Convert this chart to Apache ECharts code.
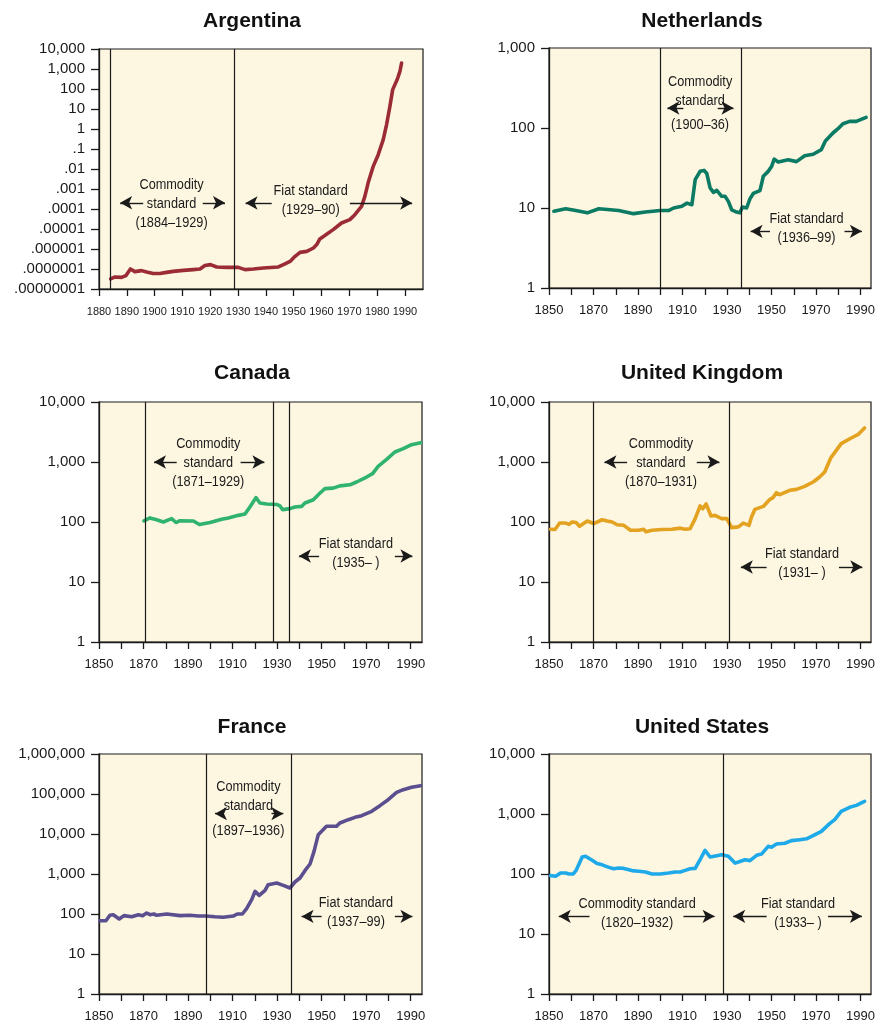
<!DOCTYPE html>
<html>
<head>
<meta charset="utf-8">
<script src="https://cdn.jsdelivr.net/npm/echarts@6/dist/echarts.min.js"></script>
<style>
html,body{margin:0;padding:0;background:#ffffff;}
#chart{width:878px;height:1023px;}
</style>
</head>
<body>
<div id="chart"></div>
<script>
// ---------------- DATA ----------------
const argYears = [1884.2, 1885.75, 1888.1, 1889.7, 1891.3, 1892.9, 1895.3, 1897.1, 1899.5, 1901.9, 1904.3, 1906.7, 1910.3, 1913.9, 1916.3, 1918.1, 1920.1, 1922.3, 1925.9, 1930.1, 1932.5, 1935.5, 1939.1, 1944.5, 1946.3, 1948.7, 1950.5, 1952.3, 1954.7, 1957.1, 1958.3, 1959.4, 1961.2, 1964.2, 1967.2, 1970.2, 1972.0, 1974.4, 1975.6, 1976.8, 1978.6, 1980.4, 1982.2, 1983.4, 1984.6, 1985.6, 1987.3, 1988.2, 1988.8];
const argValues = [3.2e-8, 4.0e-8, 3.8e-8, 4.7e-8, 1.0e-7, 7.4e-8, 8.3e-8, 7.1e-8, 6.0e-8, 6.0e-8, 6.8e-8, 7.6e-8, 8.5e-8, 9.3e-8, 1.0e-7, 1.5e-7, 1.66e-7, 1.26e-7, 1.2e-7, 1.2e-7, 9.3e-8, 1.0e-7, 1.12e-7, 1.26e-7, 1.66e-7, 2.4e-7, 4.3e-7, 6.8e-7, 7.6e-7, 1.12e-6, 1.66e-6, 3.2e-6, 4.7e-6, 9.3e-6, 2.0e-5, 2.95e-5, 5.2e-5, 1.35e-4, 4.3e-4, 2.1e-3, 0.0135, 0.052, 0.295, 1.66, 13.5, 93, 316, 760, 2000];

const netYears = [1852.2, 1857.5, 1862, 1867.2, 1872.4, 1881.3, 1888, 1893.3, 1900, 1903.7, 1906, 1909.7, 1912, 1914.2, 1915.7, 1917.9, 1919.7, 1920.9, 1922.4, 1923.9, 1925.4, 1927.6, 1929.1, 1930.6, 1932.1, 1934.3, 1935.8, 1936.9, 1938.8, 1940.3, 1941.8, 1944.8, 1946.3, 1948.5, 1950, 1951.2, 1953, 1957.5, 1961.2, 1964.9, 1968.7, 1972.4, 1974.2, 1977.6, 1979.9, 1982.1, 1985.1, 1988.1, 1992.5];
const netValues = [9.1, 9.8, 9.3, 8.7, 9.8, 9.3, 8.5, 8.9, 9.3, 9.3, 10, 10.5, 11.5, 11, 22.6, 28.7, 29.5, 27, 17.8, 15.7, 16.6, 14, 14, 12.1, 9.5, 8.9, 8.7, 10.3, 10, 13, 15.2, 16.5, 24.9, 28.7, 33, 40.8, 37.5, 40, 38, 45, 47, 53.7, 69, 86.6, 98, 113, 121, 121, 136];

const canYears = [1870.2, 1872.9, 1875.9, 1878.9, 1882.6, 1884.6, 1886.4, 1892.4, 1895.1, 1899.9, 1905.1, 1908.1, 1912.6, 1915.6, 1917.8, 1920.5, 1922.3, 1925.3, 1929.8, 1931.3, 1932.5, 1935.8, 1938, 1941, 1942.5, 1946.3, 1949.3, 1951.5, 1955.2, 1958.2, 1962.7, 1965.7, 1970.2, 1972.9, 1975.4, 1979.2, 1982.9, 1986.7, 1990.4, 1994.5];
const canValues = [104, 117, 109, 100, 114, 98, 105, 104, 91, 98, 111, 117, 129, 136, 178, 255, 207, 200, 196, 185, 161, 167, 178, 182, 207, 235, 304, 360, 367, 400, 417, 464, 562, 639, 847, 1108, 1468, 1668, 1944, 2100];

const ukYears = [1850.7, 1852.7, 1854.8, 1857.5, 1859, 1860.4, 1862.2, 1863.7, 1867.2, 1870.1, 1873.9, 1876.1, 1878.4, 1880.6, 1883.6, 1886.6, 1890.3, 1892.5, 1893.6, 1896.3, 1900.7, 1905.2, 1909, 1911.2, 1913.4, 1915.7, 1917.9, 1919.1, 1920.6, 1922.8, 1924.6, 1927.6, 1929.9, 1932.1, 1935.1, 1937.3, 1939.9, 1941, 1942.5, 1946.3, 1949.3, 1950.7, 1952.2, 1953.7, 1958.2, 1961.2, 1964.9, 1968.7, 1971.6, 1973.9, 1976.6, 1979.1, 1981.3, 1985.8, 1988.8, 1991.8];
const ukValues = [75.5, 75, 96, 96, 91, 100, 98, 85, 104, 94, 109, 104, 100, 90, 88, 73, 73, 75.5, 68.5, 73, 75, 75.5, 79, 75.5, 77, 114, 185, 167, 200, 126, 129, 114, 114, 80.5, 83, 96, 88, 121, 162, 182, 239, 255, 308, 285, 337, 350, 393, 464, 562, 681, 1166, 1565, 2021, 2512, 2854, 3687];

const fraYears = [1850.4, 1853.1, 1854.9, 1856.4, 1859.1, 1861.2, 1864.7, 1867.7, 1869.6, 1871.4, 1872.9, 1874.7, 1875.9, 1880.4, 1886.4, 1890.9, 1894.6, 1898, 1902.1, 1905.8, 1910.3, 1912.1, 1914.4, 1916.3, 1918.6, 1920.1, 1922, 1924.6, 1926, 1929.8, 1932.8, 1935.8, 1938, 1940.3, 1942.5, 1944.8, 1946.6, 1948.5, 1950, 1952.2, 1956.7, 1958.2, 1962, 1965, 1968, 1972.5, 1976.2, 1979.9, 1983.7, 1986.7, 1990.4, 1994.5];
const fraValues = [68, 68, 93, 96, 75, 91, 85, 96, 91, 106, 96, 100, 93, 100, 91, 93, 89, 89, 85, 83, 89, 100, 100, 136, 228, 369, 293, 391, 541, 596, 521, 447, 631, 794, 1211, 1778, 3687, 9624, 11660, 15560, 15560, 18840, 22800, 26100, 28700, 36870, 51100, 72100, 110000, 128300, 146800, 161500];

const usYears = [1850.7, 1853, 1855.2, 1857.5, 1859, 1860.9, 1862.2, 1863.7, 1864.9, 1866.4, 1869.4, 1871.6, 1873.9, 1876.9, 1879.1, 1881.3, 1883.6, 1887.3, 1890.3, 1893.3, 1896.3, 1900, 1903.7, 1906.7, 1907.5, 1909, 1911.2, 1913.4, 1915.7, 1917.9, 1920.1, 1922.4, 1925.4, 1927.6, 1930.6, 1933.6, 1935.8, 1938.1, 1940.3, 1943.3, 1945.5, 1948.5, 1950, 1952.2, 1956, 1959, 1962.7, 1965.7, 1968.7, 1972.4, 1976.1, 1978.4, 1981.3, 1985.1, 1988.1, 1991.8];
const usValues = [94, 92, 104, 104, 100, 100, 115, 152, 192, 198, 169, 149, 142, 129, 122, 126, 124, 114, 111, 108, 100, 100, 104, 108, 114, 108, 115, 122, 124, 173, 248, 192, 202, 210, 198, 152, 162, 173, 167, 205, 215, 289, 280, 316, 325, 360, 373, 386, 436, 514, 690, 805, 1108, 1292, 1393, 1625];

// standard boundaries (years)
const argLines = [1884.2, 1928.6];
const netLines = [1900, 1936.4];
const canLines = [1870.7, 1928.1, 1935.3];
const ukLines = [1870, 1931.2];
const fraLines = [1898, 1936.5];
const usLines = [1928.1];

// tick values and labels
const argXTicks = [1880, 1890, 1900, 1910, 1920, 1930, 1940, 1950, 1960, 1970, 1980, 1990];
const stdXTicks = [1850, 1860, 1870, 1880, 1890, 1900, 1910, 1920, 1930, 1940, 1950, 1960, 1970, 1980, 1990];
const stdXLabels = [1850, 1870, 1890, 1910, 1930, 1950, 1970, 1990];

const argYTicks = [1e-8, 1e-7, 1e-6, 1e-5, 1e-4, 1e-3, 1e-2, 1e-1, 1, 10, 100, 1000, 10000];
const argYLabels = ['.00000001', '.0000001', '.000001', '.00001', '.0001', '.001', '.01', '.1', '1', '10', '100', '1,000', '10,000'];
const netYTicks = [1, 10, 100, 1000];
const netYLabels = ['1', '10', '100', '1,000'];
const fourYTicks = [1, 10, 100, 1000, 10000];
const fourYLabels = ['1', '10', '100', '1,000', '10,000'];
const fraYTicks = [1, 10, 100, 1000, 10000, 100000, 1000000];
const fraYLabels = ['1', '10', '100', '1,000', '10,000', '100,000', '1,000,000'];

// annotation texts
const argTexts = ['Commodity\nstandard\n(1884–1929)', 'Fiat standard\n(1929–90)'];
const netTexts = ['Commodity\nstandard', '(1900–36)', 'Fiat standard\n(1936–99)'];
const canTexts = ['Commodity\nstandard\n(1871–1929)', 'Fiat standard\n(1935– )'];
const ukTexts = ['Commodity\nstandard\n(1870–1931)', 'Fiat standard\n(1931– )'];
const fraTexts = ['Commodity\nstandard', '(1897–1936)', 'Fiat standard\n(1937–99)'];
const usTexts = ['Commodity standard\n(1820–1932)', 'Fiat standard\n(1933– )'];

// ---------------- LAYOUT / STYLE ----------------
const SANS = "'Liberation Sans', Arial, Helvetica, sans-serif";
const INK = '#1a1a1a';

const panels = [
  { title: 'Argentina', tx: 252, ty: 21, years: argYears, values: argValues, color: '#9b2c36',
    grid: {left: 99, top: 49, width: 324, height: 240},
    xMin: 1880, xMax: 1996.5, xTicks: argXTicks, xLabels: argXTicks, xFont: 11, xMargin: 17,
    yTicks: argYTicks, yLabels: argYLabels, lines: argLines,
    texts: [[argTexts[0], 1906.1, 1.85e-4], [argTexts[1], 1956.1, 2.9e-4]],
    arrows: [[1895.9, 1887.6, 2.05e-4], [1917.3, 1925.3, 2.05e-4], [1942.1, 1932.7, 2.0e-4], [1970.2, 1992.6, 2.0e-4]] },
  { title: 'Netherlands', tx: 702, ty: 21, years: netYears, values: netValues, color: '#0b7b64',
    grid: {left: 549, top: 48, width: 323, height: 240},
    xMin: 1850, xMax: 1994.7, xTicks: stdXTicks, xLabels: stdXLabels, xFont: 13, xMargin: 16,
    yTicks: netYTicks, yLabels: netYLabels, lines: netLines,
    texts: [[netTexts[0], 1917.9, 292], [netTexts[1], 1917.9, 109], [netTexts[2], 1965.7, 5.6]],
    arrows: [[1910.4, 1903.2, 177.8], [1925.8, 1932.9, 177.8], [1949.3, 1940.6, 5.11], [1982.8, 1990.6, 5.11]] },
  { title: 'Canada', tx: 252, ty: 373, years: canYears, values: canValues, color: '#2fb36e',
    grid: {left: 99, top: 402, width: 323, height: 240},
    xMin: 1850, xMax: 1995.1, xTicks: stdXTicks, xLabels: stdXLabels, xFont: 13, xMargin: 16,
    yTicks: fourYTicks, yLabels: fourYLabels, lines: canLines,
    texts: [[canTexts[0], 1899.1, 975], [canTexts[1], 1965.4, 30.5]],
    arrows: [[1884.9, 1874.7, 1000], [1913.6, 1924.3, 1000], [1948.9, 1939.8, 27.1], [1982.9, 1990.8, 27.1]] },
  { title: 'United Kingdom', tx: 702, ty: 373, years: ukYears, values: ukValues, color: '#e3a21f',
    grid: {left: 549, top: 402, width: 323, height: 240},
    xMin: 1850, xMax: 1994.7, xTicks: stdXTicks, xLabels: stdXLabels, xFont: 13, xMargin: 16,
    yTicks: fourYTicks, yLabels: fourYLabels, lines: ukLines,
    texts: [[ukTexts[0], 1900.3, 975], [ukTexts[1], 1963.7, 20.2]],
    arrows: [[1885.1, 1874.9, 1000], [1916.4, 1926.6, 1000], [1947.8, 1936.2, 17.8], [1980.3, 1990.8, 17.8]] },
  { title: 'France', tx: 252, ty: 727, years: fraYears, values: fraValues, color: '#5b4f8f',
    grid: {left: 99, top: 754, width: 323, height: 240},
    xMin: 1850, xMax: 1995.1, xTicks: stdXTicks, xLabels: stdXLabels, xFont: 13, xMargin: 16,
    yTicks: fraYTicks, yLabels: fraYLabels, lines: fraLines,
    texts: [[fraTexts[0], 1917.1, 86000], [fraTexts[1], 1917.1, 12000], [fraTexts[2], 1965.4, 108]],
    arrows: [[1905.5, 1902.1, 32240], [1927.5, 1932.8, 32240], [1950, 1941, 87.1], [1982.9, 1990.8, 87.1]] },
  { title: 'United States', tx: 702, ty: 727, years: usYears, values: usValues, color: '#1ea9e9',
    grid: {left: 549, top: 754, width: 323, height: 240},
    xMin: 1850, xMax: 1994.7, xTicks: stdXTicks, xLabels: stdXLabels, xFont: 13, xMargin: 16,
    yTicks: fourYTicks, yLabels: fourYLabels, lines: usLines,
    texts: [[usTexts[0], 1889.6, 22.6], [usTexts[1], 1961.9, 22.6]],
    arrows: [[1868.2, 1854.4, 19.7], [1910.4, 1924.4, 19.7], [1947.8, 1932.8, 19.7], [1975.4, 1990.6, 19.7]] }
];

const option = {
  backgroundColor: '#ffffff',
  animation: false,
  grid: [], xAxis: [], yAxis: [], series: [], graphic: []
};

panels.forEach((p, i) => {
  option.grid.push(Object.assign({
    show: true, backgroundColor: '#fdf6e1', borderColor: INK, borderWidth: 1.2,
    containLabel: false
  }, p.grid));

  option.xAxis.push({
    type: 'value', gridIndex: i, min: p.xMin, max: p.xMax,
    axisLine: {show: true, onZero: false, lineStyle: {color: INK, width: 1.3}},
    axisTick: {show: true, inside: false, length: 7, customValues: p.xTicks, lineStyle: {color: INK, width: 1.3}},
    axisLabel: {show: true, customValues: p.xLabels, margin: p.xMargin, color: INK,
      showMinLabel: true, showMaxLabel: true, hideOverlap: false,
      fontSize: p.xFont, fontFamily: SANS, formatter: v => String(Math.round(v))},
    splitLine: {show: false}
  });

  const ticks = p.yTicks, labels = p.yLabels;
  option.yAxis.push({
    type: 'log', logBase: 10, gridIndex: i, min: ticks[0], max: ticks[ticks.length - 1],
    axisLine: {show: true, onZero: false, lineStyle: {color: INK, width: 1.3}},
    axisTick: {show: true, inside: false, length: 8, customValues: ticks, lineStyle: {color: INK, width: 1.3}},
    axisLabel: {show: true, customValues: ticks, margin: 14, color: INK, fontSize: 15, fontFamily: SANS,
      showMinLabel: true, showMaxLabel: true,
      formatter: v => {
        const lv = Math.log10(v);
        for (let k = 0; k < ticks.length; k++) {
          if (Math.abs(Math.log10(ticks[k]) - lv) < 0.01) return labels[k];
        }
        return '';
      }},
    splitLine: {show: false}, minorTick: {show: false}
  });

  const vLines = p.lines.map(v => ({xAxis: v}));
  const arrowLines = p.arrows.map(a => [
    {coord: [a[0], a[2]], symbol: 'none', lineStyle: {color: INK, width: 1.4}},
    {coord: [a[1], a[2]], symbol: 'arrow', symbolSize: [10, 12], lineStyle: {color: INK, width: 1.4}}
  ]);

  option.series.push({
    type: 'line', name: p.title, xAxisIndex: i, yAxisIndex: i,
    data: p.years.map((y, k) => [y, p.values[k]]),
    showSymbol: false, symbol: 'none', silent: true, z: 3,
    lineStyle: {color: p.color, width: 3.6, cap: 'round', join: 'round'},
    itemStyle: {color: p.color},
    markLine: {
      silent: true, symbol: ['none', 'none'], animation: false, precision: 4,
      label: {show: false}, emphasis: {disabled: true},
      lineStyle: {color: INK, width: 1.2, type: 'solid'},
      data: vLines.concat(arrowLines)
    }
  });

  // annotation texts: condensed (horizontally scaled) text placed at data coordinates
  option.series.push({
    type: 'custom', name: p.title + ' notes', xAxisIndex: i, yAxisIndex: i,
    silent: true, z: 5, clip: false,
    data: p.texts.map(t => [t[1], t[2]]),
    encode: {x: 0, y: 1},
    renderItem: (params, api) => {
      const pt = api.coord([api.value(0), api.value(1)]);
      return {
        type: 'text', x: pt[0], y: pt[1], scaleX: 0.82, scaleY: 1,
        style: {text: p.texts[params.dataIndex][0], fill: INK, font: '15.5px ' + SANS,
          lineHeight: 19, align: 'center', verticalAlign: 'middle'}
      };
    }
  });

  option.graphic.push({
    type: 'text', x: p.tx, y: p.ty, silent: true,
    style: {text: p.title, fill: '#111111', font: 'bold 21px ' + SANS,
      textAlign: 'center', textVerticalAlign: 'middle'}
  });
});

const chart = echarts.init(document.getElementById('chart'), null, {renderer: 'canvas'});
chart.setOption(option);
</script>
</body>
</html>
